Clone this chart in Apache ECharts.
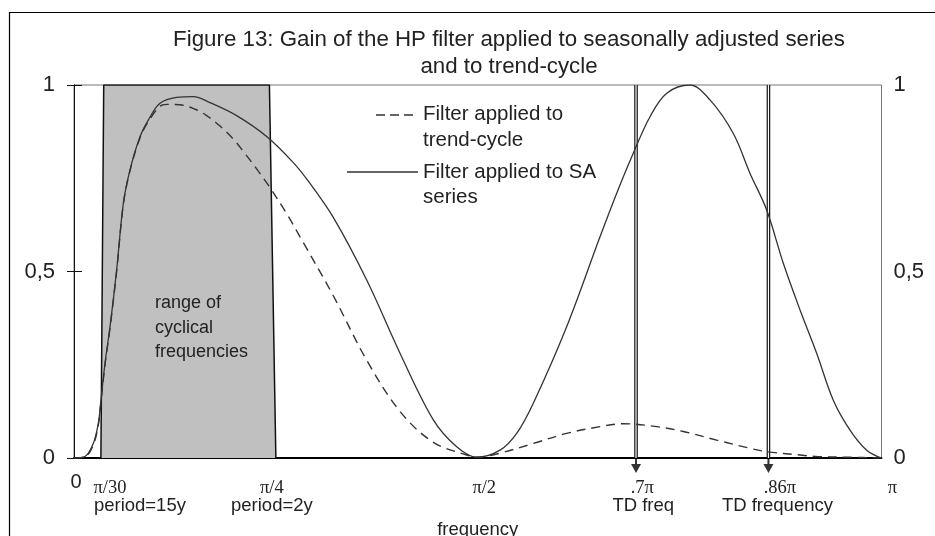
<!DOCTYPE html>
<html>
<head>
<meta charset="utf-8">
<script src="https://cdn.jsdelivr.net/npm/echarts@6/dist/echarts.min.js"></script>
<style>html,body{margin:0;padding:0;background:#fff}#c{width:935px;height:536px}</style>
</head>
<body>
<div id="c"></div>
<script>
// ---- data (frequency in units of pi) ----
const freqSA = [0, 0.0136, 0.0239, 0.0301, 0.0330, 0.0384, 0.0446, 0.0528, 0.0611, 0.0693, 0.0817, 0.0920, 0.1065, 0.1271, 0.1478, 0.1684, 0.2014, 0.2386, 0.2716, 0.2902, 0.3211, 0.3625, 0.4037, 0.4450, 0.4739, 0.4987, 0.5276, 0.5482, 0.5688, 0.6101, 0.6514, 0.6721, 0.6926, 0.7133, 0.7340, 0.7628, 0.7876, 0.8165, 0.8372, 0.8578, 0.8784, 0.8991, 0.9197, 0.9403, 0.9610, 0.9817, 1.0];
const gainSA = [0, 0.004, 0.039, 0.093, 0.147, 0.254, 0.352, 0.504, 0.683, 0.772, 0.861, 0.906, 0.951, 0.967, 0.969, 0.953, 0.918, 0.862, 0.792, 0.742, 0.645, 0.477, 0.281, 0.102, 0.030, 0.002, 0.021, 0.066, 0.147, 0.352, 0.593, 0.710, 0.817, 0.915, 0.978, 1.0, 0.960, 0.870, 0.763, 0.665, 0.522, 0.397, 0.281, 0.155, 0.075, 0.021, 0];
const freqTC = [0, 0.0136, 0.0239, 0.0301, 0.0330, 0.0384, 0.0446, 0.0528, 0.0611, 0.0693, 0.0817, 0.0920, 0.1065, 0.1150, 0.1310, 0.1500, 0.1643, 0.1808, 0.1973, 0.2097, 0.2262, 0.2427, 0.2634, 0.2820, 0.3211, 0.3625, 0.4037, 0.4450, 0.4863, 0.4987, 0.5276, 0.5688, 0.6101, 0.6514, 0.6803, 0.7216, 0.7546, 0.7959, 0.8372, 0.8578, 0.8991, 0.9197, 0.9610, 1.0];
const gainTC = [0, 0.003, 0.035, 0.088, 0.142, 0.250, 0.348, 0.500, 0.680, 0.770, 0.858, 0.902, 0.943, 0.948, 0.947, 0.935, 0.918, 0.890, 0.855, 0.822, 0.775, 0.725, 0.655, 0.585, 0.435, 0.262, 0.125, 0.042, 0.008, 0.002, 0.013, 0.039, 0.066, 0.084, 0.092, 0.084, 0.071, 0.048, 0.026, 0.017, 0.008, 0.004, 0.002, 0];
// shaded range of cyclical frequencies (trapezoid as drawn)
const shadeFreq = [0.0333, 0.0368, 0.2420, 0.2500];
const shadeGain = [0, 1, 1, 0];
// trading-day frequency markers
const tdFreq = [0.696, 0.86];
// x tick labels
const zeroTick = [0];
const zeroLabel = ['0'];
const tickValues = [1/30, 0.25, 0.5, 0.7, 0.86, 1];
const tickPi = ['π/30', 'π/4', 'π/2', '.7π', '.86π', 'π'];
const tickSub = ['period=15y', 'period=2y', '', 'TD freq', 'TD frequency', ''];
const yTicks = ['0', '0,5', '1'];
const titleLines = ['Figure 13: Gain of the HP filter applied to seasonally adjusted series', 'and to trend-cycle'];
const nameTC = 'Filter applied to\ntrend-cycle';
const nameSA = 'Filter applied to SA\nseries';
const shadeText = 'range of\ncyclical\nfrequencies';

// ---- styling helpers ----
const SANS = "'Liberation Sans', Arial, sans-serif";
const SERIF = "'Liberation Serif', 'Times New Roman', serif";
const piShift = [9, -4, 6.5, 3, 11.5, 11];
const subShift = [39, -4, 0, 4, 9, 0];
function pad(s) { return s >= 0 ? [0, 0, 0, 2 * s] : [0, -2 * s, 0, 0]; }
const rich = {};
tickValues.forEach((v, i) => {
  rich['a' + i] = { fontFamily: SERIF, fontSize: 18.5, lineHeight: 18, color: '#222', padding: pad(piShift[i]) };
  rich['b' + i] = { fontFamily: SANS, fontSize: 18.5, lineHeight: 18, color: '#222', padding: pad(subShift[i]) };
});
function xFmt(val) {
  let idx = 0, best = 1e9;
  tickValues.forEach((v, i) => { const d = Math.abs(v - val); if (d < best) { best = d; idx = i; } });
  let s = '{a' + idx + '|' + tickPi[idx] + '}';
  if (tickSub[idx]) s += '\n{b' + idx + '|' + tickSub[idx] + '}';
  return s;
}
function yFmt(v) { return yTicks[Math.round(v * 2)]; }

const chart = echarts.init(document.getElementById('c'), null, { renderer: 'canvas' });
const yAxisBase = {
  type: 'value', min: 0, max: 1, interval: 0.5,
  axisLine: { show: true, lineStyle: { color: '#111', width: 1 } },
  axisTick: { show: true, length: 7, lineStyle: { color: '#111', width: 1 } },
  splitLine: { show: false },
  axisLabel: { formatter: yFmt, fontFamily: SANS, fontSize: 22, color: '#222' }
};
const arrowPath = 'path://M4,0L6,0L6,6L10,6L5,15L0,6L4,6Z';
const LEG_FONT = "20.5px 'Liberation Sans', Arial, sans-serif";

chart.setOption({
  animation: false,
  backgroundColor: '#fff',
  title: {
    text: titleLines.join('\n'), left: 504, textAlign: 'center', top: 21,
    textStyle: { fontFamily: SANS, fontSize: 22.3, fontWeight: 'normal', color: '#222', lineHeight: 27 }
  },
  grid: { left: 74, right: 53.5, top: 85, bottom: 78, containLabel: false, outerBoundsMode: 'none', show: true, borderColor: '#777', borderWidth: 1 },
  xAxis: [
    {
      type: 'value', min: 0, max: 1, position: 'bottom',
      name: 'frequency', nameLocation: 'middle', nameGap: 55,
      nameTextStyle: { fontFamily: SANS, fontSize: 18.5, color: '#222' },
      axisLine: { show: true, onZero: false, lineStyle: { color: '#000', width: 2 } },
      axisTick: { show: false },
      splitLine: { show: false },
      axisLabel: { customValues: tickValues, formatter: xFmt, rich: rich, margin: 21, hideOverlap: false }
    },
    {
      type: 'value', min: 0, max: 1, position: 'bottom',
      axisLine: { show: false }, axisTick: { show: false }, splitLine: { show: false },
      axisLabel: { customValues: zeroTick, formatter: (v) => zeroLabel[0], margin: 14, fontFamily: SANS, fontSize: 20, color: '#222', padding: [0, 0, 0, 4] }
    }
  ],
  yAxis: [
    Object.assign({}, yAxisBase, { position: 'left', axisLabel: Object.assign({}, yAxisBase.axisLabel, { margin: 19 }) }),
    Object.assign({}, yAxisBase, { position: 'right', axisTick: { show: true, length: 8, lineStyle: { color: '#111', width: 1 } }, axisLabel: Object.assign({}, yAxisBase.axisLabel, { margin: 12 }) })
  ],
  series: [
    {
      type: 'line', name: 'range', z: 1, silent: true, showSymbol: false, symbol: 'none',
      data: shadeFreq.map((f, i) => [f, shadeGain[i]]),
      lineStyle: { color: '#111', width: 1.5 },
      areaStyle: { color: '#c0c0c0', opacity: 1, origin: 'start' }
    },
    ...tdFreq.map(f => ({
      type: 'line', z: 2, silent: true, symbol: 'none',
      data: [[f, 0], [f, 1]], lineStyle: { color: '#111', width: 3.6 }
    })),
    ...tdFreq.map(f => ({
      type: 'line', z: 2, silent: true, symbol: 'none',
      data: [[f, 0], [f, 1]], lineStyle: { color: '#fff', width: 1.2 }
    })),
    {
      type: 'scatter', z: 5, silent: true, clip: false,
      data: tdFreq.map(f => [f, 0]),
      symbol: arrowPath, symbolSize: [10, 15], symbolOffset: [0, '50%'],
      itemStyle: { color: '#000' }
    },
    {
      type: 'line', name: nameTC, z: 3, symbol: 'none', smooth: 0.35,
      data: freqTC.map((f, i) => [f, gainTC[i]]),
      lineStyle: { color: '#333', width: 1.4, type: [9, 6] }
    },
    {
      type: 'line', name: nameSA, z: 4, symbol: 'none', smooth: 0.35,
      data: freqSA.map((f, i) => [f, gainSA[i]]),
      lineStyle: { color: '#333', width: 1.3 }
    }
  ],
  graphic: [
    { type: 'rect', z: -10, silent: true, shape: { x: 9.5, y: 12.5, width: 1000, height: 1000 }, style: { fill: 'none', stroke: '#000', lineWidth: 1.2 } },
    { type: 'line', z: 10, silent: true, shape: { x1: 376, y1: 115, x2: 418, y2: 115 }, style: { stroke: '#333', lineWidth: 1.4, lineDash: [9, 5] } },
    { type: 'text', z: 10, silent: true, x: 423, y: 102, style: { text: nameTC, font: LEG_FONT, fill: '#222', lineHeight: 25.5 } },
    { type: 'line', z: 10, silent: true, shape: { x1: 347, y1: 172, x2: 418, y2: 172 }, style: { stroke: '#333', lineWidth: 1.3 } },
    { type: 'text', z: 10, silent: true, x: 423, y: 159.5, style: { text: nameSA, font: LEG_FONT, fill: '#222', lineHeight: 25 } },
    { type: 'text', z: 10, silent: true, x: 155, y: 291, style: { text: shadeText, font: "18px 'Liberation Sans', Arial, sans-serif", fill: '#222', lineHeight: 24.5 } }
  ]
});
</script>
</body>
</html>
